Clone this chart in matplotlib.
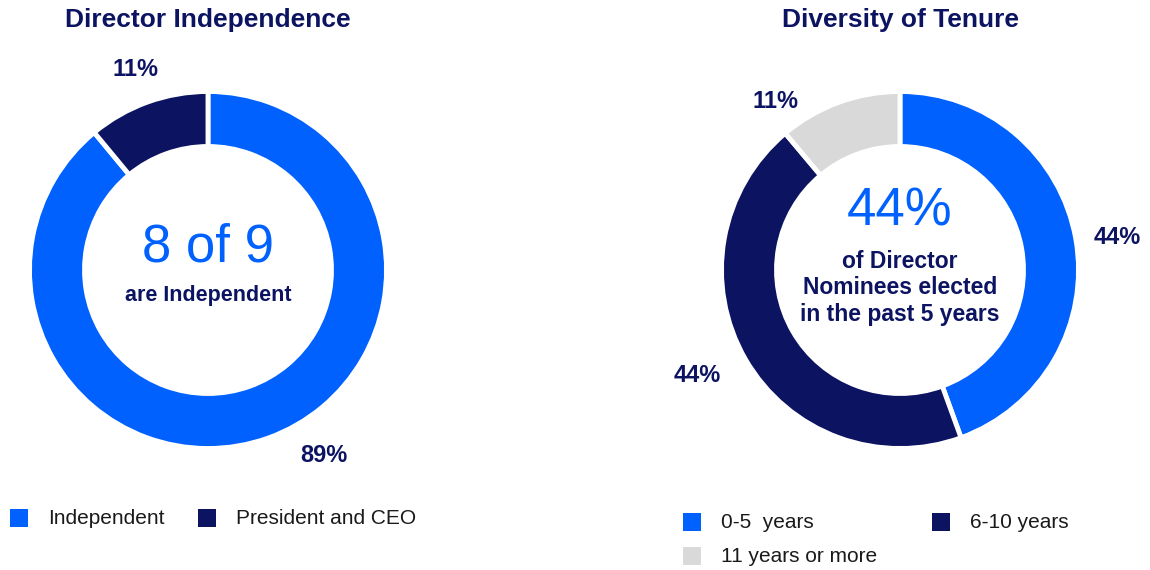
import matplotlib
matplotlib.use("Agg")
import matplotlib.pyplot as plt
from matplotlib.patches import Rectangle

plt.rcParams['font.family'] = ['Liberation Sans', 'DejaVu Sans']

# данные
indep_labels = ['Independent', 'President and CEO']
indep_values = [89, 11]
tenure_labels = ['0-5  years', '6-10 years', '11 years or more']
tenure_values = [44, 44, 11]

BLUE = '#0061FE'
NAVY = '#0C1462'
GREY = '#D9D9D9'
W, H = 1150, 570


def py(y):
    # пиксели сверху -> координаты осей
    return H - y


fig = plt.figure(figsize=(W / 100, H / 100), dpi=100)
ax = fig.add_axes([0, 0, 1, 1])
ax.set_xlim(0, W)
ax.set_ylim(0, H)
ax.axis('off')

wp = dict(width=55, edgecolor='white', linewidth=3.5)

# левый график
ax.pie(indep_values, colors=[BLUE, NAVY], startangle=90, counterclock=False,
       radius=178.5, center=(208, py(270)), wedgeprops=wp, frame=True)
# правый график
ax.pie(tenure_values, colors=[BLUE, NAVY, GREY], startangle=90, counterclock=False,
       radius=178.5, center=(900, py(270)), wedgeprops=wp, frame=True)
ax.set_xlim(0, W)
ax.set_ylim(0, H)
ax.axis('off')

lab = dict(color=NAVY, fontweight='bold', fontsize=17, ha='center', va='center')
ax.text(135, py(70), f'{indep_values[1]}%', **lab)
ax.text(324, py(455), f'{indep_values[0]}%', **lab)
ax.text(1117, py(237), f'{tenure_values[0]}%', **lab)
ax.text(697, py(375), f'{tenure_values[1]}%', **lab)
ax.text(775, py(101), f'{tenure_values[2]}%', **lab)

# заголовки
ax.text(208, py(20), 'Director Independence', color=NAVY, fontweight='bold',
        fontsize=19, ha='center', va='center')
ax.text(900, py(20), 'Diversity of Tenure', color=NAVY, fontweight='bold',
        fontsize=19, ha='center', va='center')

# центральные надписи
ax.text(208, py(248), '8 of 9', color=BLUE, fontsize=38, ha='center', va='center')
ax.text(208, py(295), 'are Independent', color=NAVY, fontweight='bold',
        fontsize=15.5, ha='center', va='center')
ax.text(900, py(211), '44%', color=BLUE, fontsize=38, ha='center', va='center')
ax.text(900, py(288), 'of Director\nNominees elected\nin the past 5 years', color=NAVY,
        fontweight='bold', fontsize=16.5, ha='center', va='center', linespacing=1.2)

# легенды
legend_items = [
    (10, 518, BLUE, indep_labels[0]),
    (198, 518, NAVY, indep_labels[1]),
    (683, 522, BLUE, tenure_labels[0]),
    (932, 522, NAVY, tenure_labels[1]),
    (683, 556, GREY, tenure_labels[2]),
]
for x, y, c, t in legend_items:
    ax.add_patch(Rectangle((x, py(y) - 9), 18, 18, color=c, lw=0))
    ax.text(x + 38, py(y), t, color='#1A1A1A', fontsize=15, ha='left', va='center')

fig.savefig('out.png', dpi=100)
